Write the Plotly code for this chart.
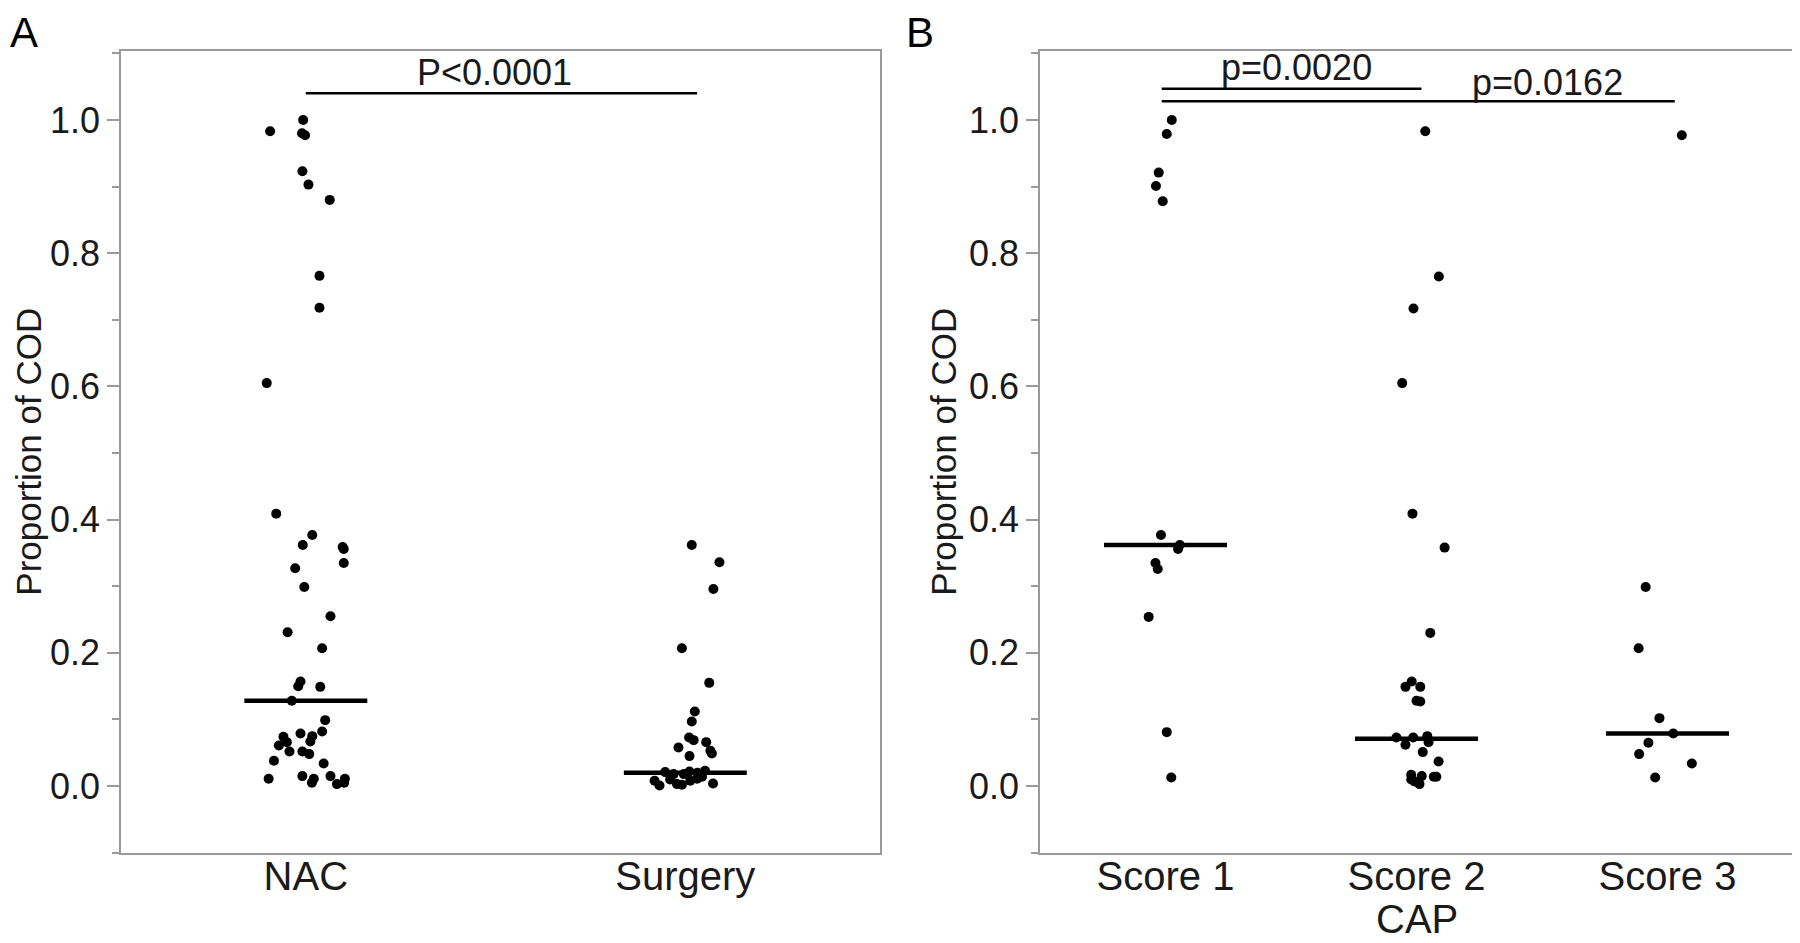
import plotly.graph_objects as go

# ---------------- data ----------------
groups_a = ["NAC", "Surgery"]
groups_b = ["Score 1", "Score 2", "Score 3"]

nac_values = [1.000, 0.983, 0.980, 0.977, 0.923, 0.903, 0.880, 0.766, 0.718, 0.605,
              0.409, 0.377, 0.362, 0.359, 0.356, 0.335, 0.327, 0.299, 0.255, 0.231,
              0.207, 0.157, 0.150, 0.149, 0.128,
              0.099, 0.082, 0.079, 0.075, 0.074, 0.067, 0.066, 0.061, 0.052, 0.052,
              0.048, 0.038, 0.034, 0.011, 0.015, 0.011, 0.005, 0.015, 0.003, 0.011, 0.005]
nac_jitter = [-0.007, -0.094, -0.010, -0.002, -0.009, 0.007, 0.063, 0.036, 0.036, -0.103,
              -0.078, 0.017, -0.008, 0.097, 0.100, 0.100, -0.028, -0.004, 0.065, -0.048,
              0.043, -0.014, -0.020, 0.038, -0.037,
              0.051, 0.043, -0.014, 0.017, -0.059, 0.012, -0.050, -0.071, -0.043, -0.009,
              0.009, -0.084, 0.047, -0.098, -0.009, 0.021, 0.016, 0.065, 0.082, 0.103, 0.101]

surgery_values = [0.362, 0.336, 0.296, 0.207, 0.155, 0.112, 0.097, 0.073, 0.069, 0.066,
                  0.058, 0.053, 0.049, 0.045, 0.023, 0.022, 0.021, 0.020, 0.018, 0.018,
                  0.014, 0.011, 0.010, 0.008, 0.008, 0.004, 0.003, 0.002, 0.001]
surgery_jitter = [0.017, 0.090, 0.074, -0.009, 0.063, 0.025, 0.017, 0.010, 0.022, 0.055,
                  -0.018, 0.066, 0.070, 0.011, 0.052, 0.011, -0.053, 0.032, -0.004, -0.031,
                  0.044, 0.031, -0.040, -0.081, 0.013, 0.073, -0.022, -0.009, -0.068]

score1_values = [1.000, 0.979, 0.921, 0.901, 0.878, 0.377, 0.362, 0.356, 0.335, 0.326,
                 0.254, 0.081, 0.013]
score1_jitter = [0.025, 0.005, -0.027, -0.038, -0.011, -0.018, 0.057, 0.050, -0.040, -0.031,
                 -0.067, 0.005, 0.023]

score2_values = [0.983, 0.765, 0.717, 0.605, 0.409, 0.358, 0.230, 0.157, 0.149, 0.149,
                 0.128, 0.127, 0.075, 0.073, 0.073, 0.066, 0.062, 0.051, 0.037, 0.017,
                 0.015, 0.014, 0.014, 0.010, 0.007, 0.003]
score2_jitter = [0.035, 0.089, -0.012, -0.057, -0.016, 0.112, 0.055, -0.019, -0.044, 0.015,
                 0.000, 0.015, 0.043, -0.080, -0.013, 0.048, -0.044, 0.025, 0.088, -0.021,
                 0.021, 0.069, 0.079, -0.021, -0.008, 0.012]

score3_values = [0.977, 0.299, 0.207, 0.102, 0.079, 0.065, 0.048, 0.034, 0.013]
score3_jitter = [0.057, -0.087, -0.115, -0.032, 0.023, -0.076, -0.113, 0.097, -0.049]

medians_a = [0.128, 0.020]
medians_b = [0.362, 0.071, 0.079]

y_ticks = [0.0, 0.2, 0.4, 0.6, 0.8, 1.0]
y_title = "Proportion of COD"
x_title_b = "CAP"
panel_labels = ["A", "B"]
pvalue_a = "P<0.0001"
pvalues_b = ["p=0.0020", "p=0.0162"]

# ---------------- style ----------------
FONT = "Liberation Sans, Arial, sans-serif"
FRAME = "#9a9a9a"
TXT = "#1a1a1a"
OFF = 8                      # default page margin of the html body
W, H = 1800 - OFF, 943 - OFF
dom_y = [(H - (852.7 - OFF)) / H, (H - (50.7 - OFF)) / H]
dom_xa = [(121 - OFF) / W, (880 - OFF) / W]
dom_xb = [(1040 - OFF) / W, (1793 - OFF) / W]
SHIFT_A = 0.013              # categories in panel A sit slightly left of the box centre

fig = go.Figure()

def add_points(values, jitter, idx, xaxis):
    fig.add_trace(go.Scatter(
        x=[idx + j for j in jitter], y=values, mode="markers",
        marker=dict(color="black", size=10, line=dict(width=0)),
        xaxis=xaxis, yaxis=xaxis.replace("x", "y"), hoverinfo="y"))

add_points(nac_values, nac_jitter, 0, "x")
add_points(surgery_values, surgery_jitter, 1, "x")
add_points(score1_values, score1_jitter, 0, "x2")
add_points(score2_values, score2_jitter, 1, "x2")
add_points(score3_values, score3_jitter, 2, "x2")

def add_medians(meds, half, xaxis):
    for i, m in enumerate(meds):
        fig.add_trace(go.Scatter(
            x=[i - half, i + half], y=[m, m], mode="lines",
            line=dict(color="black", width=4.5),
            xaxis=xaxis, yaxis=xaxis.replace("x", "y"), hoverinfo="skip"))

add_medians(medians_a, 0.162, "x")
add_medians(medians_b, 0.245, "x2")

# significance brackets
def bracket(xref, x0, x1, y):
    fig.add_shape(type="line", xref=xref, yref=xref.replace("x", "y"),
                  x0=x0, x1=x1, y0=y, y1=y, line=dict(color="black", width=2.5))

bracket("x", 0.0, 1.031, 1.040)
bracket("x2", -0.015, 1.020, 1.047)
bracket("x2", -0.015, 2.029, 1.028)

def label(text, xref, x, y, size=36, **kw):
    fig.add_annotation(text=text, xref=xref, yref=xref.replace("x", "y"),
                       x=x, y=y, showarrow=False, font=dict(family=FONT, size=size, color=TXT), **kw)

label(pvalue_a, "x", 0.496, 1.0717, yanchor="middle")
label(pvalues_b[0], "x2", 0.521, 1.079, yanchor="middle")
label(pvalues_b[1], "x2", 1.52, 1.056, yanchor="middle")

# axis titles
ymid = (dom_y[0] + dom_y[1]) / 2
for xpx in (29, 944):
    fig.add_annotation(text=y_title, xref="paper", yref="paper", x=(xpx - OFF) / W, y=ymid,
                       textangle=-90, showarrow=False, xanchor="center", yanchor="middle",
                       borderpad=0, font=dict(family=FONT, size=35, color=TXT))
fig.add_annotation(text=x_title_b, xref="x2", yref="paper", x=1, y=0,
                   showarrow=False, xanchor="center", yanchor="bottom",
                   font=dict(family=FONT, size=40, color=TXT))

# panel letters
for txt, xpx in zip(panel_labels, (OFF, 904)):
    fig.add_annotation(text=txt, xref="paper", yref="paper", x=(xpx - OFF) / W, y=1 + 1 / H,
                       showarrow=False, xanchor="left", yanchor="top",
                       font=dict(family=FONT, size=42, color="black"))

def yaxis(anchor):
    return dict(range=[-0.1, 1.104], tickmode="array", tickvals=y_ticks, tickformat=".1f",
                ticks="outside", ticklen=12, tickwidth=1.5, tickcolor=FRAME,
                showline=True, linecolor=FRAME, linewidth=1.5, mirror=True,
                showgrid=False, zeroline=False, domain=dom_y, anchor=anchor,
                minor=dict(tickmode="linear", tick0=0, dtick=0.1, ticks="outside", ticklen=7,
                           tickwidth=1.5, tickcolor=FRAME, showgrid=False),
                tickfont=dict(family=FONT, size=36, color=TXT), automargin=False)

def xaxis(n, labels, domain, anchor, shift=0.0):
    return dict(range=[-0.5 + shift, n - 0.5 + shift], tickmode="array",
                tickvals=list(range(n)), ticktext=labels,
                ticks="", showline=True, linecolor=FRAME, linewidth=1.5, mirror=True,
                showgrid=False, zeroline=False, domain=domain, anchor=anchor,
                ticklabelstandoff=-12,
                tickfont=dict(family=FONT, size=40, color=TXT), automargin=False)

fig.update_layout(
    width=W, height=H, margin=dict(l=0, r=0, t=0, b=0),
    paper_bgcolor="white", plot_bgcolor="white", showlegend=False,
    xaxis=xaxis(2, groups_a, dom_xa, "y", SHIFT_A),
    yaxis=yaxis("x"),
    xaxis2=xaxis(3, groups_b, dom_xb, "y2"),
    yaxis2=yaxis("x2"),
)

fig.write_html("out.html")
